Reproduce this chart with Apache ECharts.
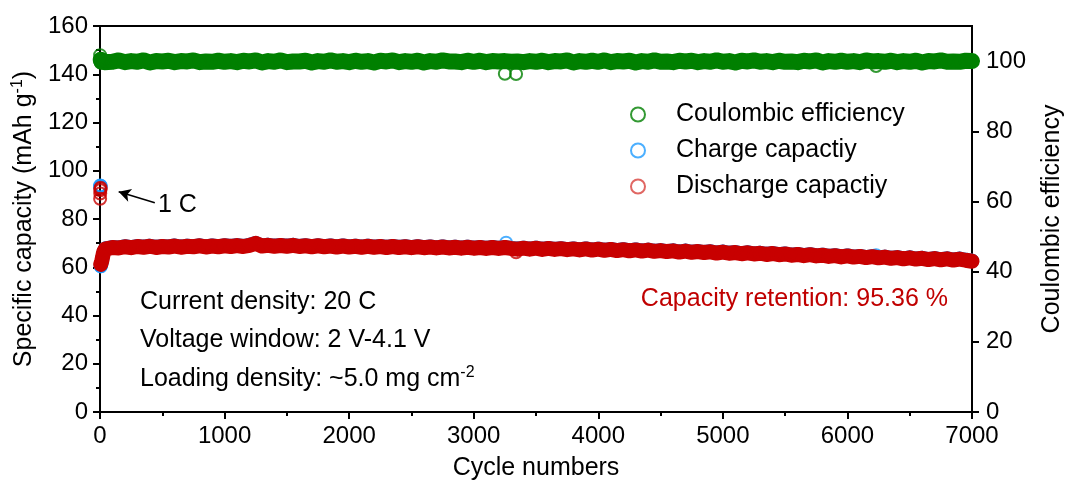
<!DOCTYPE html>
<html>
<head>
<meta charset="utf-8">
<title>Long cycling at 20 C</title>
<script src="https://cdn.jsdelivr.net/npm/echarts@6/dist/echarts.min.js"></script>
<style>
  html, body { margin: 0; padding: 0; background: #fff; }
  #chart { width: 1066px; height: 486px; }
</style>
</head>
<body>
<div id="chart"></div>
<script>
// ---- data -------------------------------------------------------------
// formation cycles at 1 C
const oneCCycles = [1, 2, 3, 4, 5];
const oneCCharge = [93.9, 93.2, 93.5, 93.6, 93.8];
const oneCDischarge = [88.4, 90.6, 91.9, 92.5, 93.0];
const oneCEfficiency = [101.7, 100.6, 100.0, 99.8, 99.6];

// first cycles at 20 C (capacity still rising)
const earlyCycles = [6, 10, 15, 20, 25, 30, 35, 42];
const earlyCharge = [60.4, 61.0, 62.5, 63.9, 65.2, 66.3, 67.1, 67.7];
const earlyDischarge = [61.2, 61.6, 62.8, 64.1, 65.3, 66.3, 67.0, 67.5];
const earlyEfficiency = [100.4, 100.1, 99.8, 100.1, 99.8, 100.0, 99.7, 100.1];

// long-term cycling at 20 C
const cycles = [
  50, 100, 150, 200, 250, 300, 350, 400, 450, 500, 550, 600, 650, 700, 750, 800, 850, 900, 950, 1000,
  1050, 1100, 1150, 1200, 1250, 1300, 1350, 1400, 1450, 1500, 1550, 1600, 1650, 1700, 1750, 1800, 1850, 1900, 1950, 2000,
  2050, 2100, 2150, 2200, 2250, 2300, 2350, 2400, 2450, 2500, 2550, 2600, 2650, 2700, 2750, 2800, 2850, 2900, 2950, 3000,
  3050, 3100, 3150, 3200, 3250, 3300, 3350, 3400, 3450, 3500, 3550, 3600, 3650, 3700, 3750, 3800, 3850, 3900, 3950, 4000,
  4050, 4100, 4150, 4200, 4250, 4300, 4350, 4400, 4450, 4500, 4550, 4600, 4650, 4700, 4750, 4800, 4850, 4900, 4950, 5000,
  5050, 5100, 5150, 5200, 5250, 5300, 5350, 5400, 5450, 5500, 5550, 5600, 5650, 5700, 5750, 5800, 5850, 5900, 5950, 6000,
  6050, 6100, 6150, 6200, 6250, 6300, 6350, 6400, 6450, 6500, 6550, 6600, 6650, 6700, 6750, 6800, 6850, 6900, 6950, 7000
];
const chargeCapacity = [
  68.0, 68.4, 68.2, 68.7, 68.3, 68.8, 68.5, 68.9, 68.4, 68.8, 68.6, 69.0, 68.5, 68.9, 68.7, 69.1, 68.6, 69.0, 68.7, 69.1,
  68.8, 69.2, 68.8, 69.3, 70.0, 69.0, 69.3, 68.9, 69.2, 68.9, 69.3, 68.8, 69.1, 68.7, 69.1, 68.7, 69.0, 68.6, 69.0, 68.6,
  68.9, 68.5, 68.9, 68.5, 68.8, 68.4, 68.8, 68.4, 68.7, 68.3, 68.7, 68.3, 68.6, 68.2, 68.6, 68.2, 68.5, 68.1, 68.5, 68.1,
  68.4, 68.0, 68.4, 68.0, 68.3, 68.0, 67.8, 68.1, 67.7, 68.1, 67.6, 68.0, 67.6, 67.9, 67.5, 67.8, 67.4, 67.8, 67.3, 67.7,
  67.2, 67.6, 67.1, 67.5, 67.0, 67.4, 66.9, 67.3, 66.8, 67.1, 66.7, 67.0, 66.5, 66.9, 66.4, 66.7, 66.3, 66.6, 66.1, 66.5,
  66.0, 66.3, 65.8, 66.2, 65.7, 66.0, 65.5, 65.9, 65.4, 65.7, 65.2, 65.5, 65.0, 65.4, 64.9, 65.2, 64.7, 65.0, 64.5, 64.9,
  64.4, 64.7, 64.2, 64.6, 64.1, 64.4, 63.9, 64.2, 63.7, 64.1, 63.6, 63.9, 63.4, 63.8, 63.3, 63.7, 63.2, 63.6, 63.1, 62.7
];
const dischargeCapacity = [
  67.8, 68.2, 68.0, 68.5, 68.1, 68.6, 68.3, 68.7, 68.2, 68.6, 68.4, 68.8, 68.3, 68.7, 68.5, 68.9, 68.4, 68.8, 68.5, 68.9,
  68.6, 69.0, 68.6, 69.1, 69.9, 68.8, 69.1, 68.7, 69.0, 68.7, 69.1, 68.6, 68.9, 68.5, 68.9, 68.5, 68.8, 68.4, 68.8, 68.4,
  68.7, 68.3, 68.7, 68.3, 68.6, 68.2, 68.6, 68.2, 68.5, 68.1, 68.5, 68.1, 68.4, 68.0, 68.4, 68.0, 68.3, 67.9, 68.3, 67.9,
  68.2, 67.8, 68.2, 67.8, 68.2, 67.8, 67.5, 67.9, 67.5, 67.9, 67.4, 67.8, 67.4, 67.7, 67.3, 67.6, 67.2, 67.6, 67.1, 67.5,
  67.0, 67.4, 66.9, 67.3, 66.8, 67.2, 66.7, 67.1, 66.6, 66.9, 66.5, 66.8, 66.3, 66.7, 66.2, 66.5, 66.1, 66.4, 65.9, 66.3,
  65.8, 66.1, 65.6, 66.0, 65.5, 65.8, 65.3, 65.7, 65.2, 65.5, 65.0, 65.3, 64.8, 65.2, 64.7, 65.0, 64.5, 64.8, 64.3, 64.7,
  64.2, 64.5, 64.0, 64.4, 63.9, 64.2, 63.7, 64.0, 63.5, 63.9, 63.4, 63.7, 63.2, 63.6, 63.1, 63.5, 63.0, 63.4, 62.9, 62.5
];
const coulombicEfficiency = [
  100.1, 99.8, 100.2, 99.7, 100.0, 99.8, 100.2, 99.6, 100.0, 99.9, 100.1, 99.7, 100.0, 99.9, 100.2, 99.7, 99.9, 99.8, 100.1, 99.8,
  100.0, 99.7, 100.1, 99.9, 100.2, 99.6, 100.0, 99.8, 100.2, 99.7, 99.9, 99.9, 100.1, 99.6, 100.0, 99.8, 100.2, 99.8, 100.0, 99.7,
  100.1, 99.8, 100.0, 99.6, 100.1, 99.9, 100.2, 99.7, 100.0, 99.8, 100.1, 99.6, 100.0, 99.8, 100.2, 99.9, 99.9, 99.7, 100.1, 99.8,
  100.1, 99.7, 100.0, 99.9, 100.0, 99.8, 99.9, 99.7, 100.0, 99.8, 100.1, 99.7, 100.0, 99.9, 100.2, 99.6, 100.0, 99.8, 100.1, 99.8,
  100.2, 99.7, 100.0, 99.9, 100.1, 99.6, 100.0, 99.8, 100.2, 99.8, 99.9, 99.7, 100.1, 99.9, 100.1, 99.7, 100.0, 99.8, 100.2, 99.8,
  100.0, 99.6, 100.1, 99.9, 100.2, 99.8, 100.0, 99.7, 100.1, 99.8, 99.9, 99.7, 100.1, 99.9, 100.2, 99.6, 100.0, 99.8, 100.1, 99.8,
  100.0, 99.7, 100.2, 99.9, 100.0, 99.8, 100.1, 99.7, 100.0, 99.8, 100.1, 99.6, 100.0, 99.9, 100.2, 99.8, 99.9, 99.8, 100.1, 100.0
];

// stray cycles lying off the main trend
const strayEfficiencyCycles = [3250, 3340, 6230];
const strayEfficiency = [96.4, 96.3, 98.6];
const strayChargeCycles = [3260, 6230];
const strayCharge = [70.2, 65.0];
const strayDischargeCycles = [3340];
const strayDischarge = [66.2];

// arrow pointing at the 1 C cycles: [cycle, capacity] tail and head
const arrowTail = [440, 86.7];
const arrowHead = [150, 91.3];

// ---- styling ----------------------------------------------------------
const FONT = 'Liberation Sans, Arial, Helvetica, sans-serif';
const GREEN = '#008000';
const BLUE = '#1E9BFF';
const RED = '#C80000';

function pairs(xs, ys) { return xs.map((x, i) => [x, ys[i]]); }

// continuous 20 C record (drawn as a dense band) and all recorded points
const cycles20C = earlyCycles.concat(cycles);
const efficiencyTrend = pairs(cycles20C, earlyEfficiency.concat(coulombicEfficiency));
const chargeTrend = pairs(cycles20C, earlyCharge.concat(chargeCapacity));
const dischargeTrend = pairs(cycles20C, earlyDischarge.concat(dischargeCapacity));

const efficiencyPoints = pairs(oneCCycles, oneCEfficiency).concat(efficiencyTrend, pairs(strayEfficiencyCycles, strayEfficiency));
const chargePoints = pairs(oneCCycles, oneCCharge).concat(chargeTrend, pairs(strayChargeCycles, strayCharge));
const dischargePoints = pairs(oneCCycles, oneCDischarge).concat(dischargeTrend, pairs(strayDischargeCycles, strayDischarge));

const markerStyle = c => ({ color: 'rgba(0,0,0,0)', borderColor: c, borderWidth: 2 });

const chart = echarts.init(document.getElementById('chart'), null, { renderer: 'canvas' });

const TICK_FONT = 24;
const axisCommon = {
  axisLine: { show: true, onZero: false, lineStyle: { color: '#000', width: 2 } },
  axisTick: { show: true, inside: false, length: 7, lineStyle: { color: '#000', width: 2 } },
  minorTick: { show: true, splitNumber: 2, length: 4, lineStyle: { color: '#000', width: 2 } },
  splitLine: { show: false },
  minorSplitLine: { show: false },
  axisLabel: { color: '#000', fontSize: TICK_FONT, fontFamily: FONT, margin: 12, formatter: v => String(v) },
  nameTextStyle: { color: '#000', fontSize: 25, fontFamily: FONT }
};

// each data set is drawn as a dense band with its open-circle markers on top;
// later sets sit above earlier ones (efficiency, then charge, then discharge)
function band(name, axis, color, width, data, z) {
  return {
    name: name, type: 'line', yAxisIndex: axis, data: data,
    showSymbol: false, symbol: 'none', silent: true, clip: true,
    lineStyle: { color: color, width: width, cap: 'round', join: 'round' },
    itemStyle: { color: color },
    z: z
  };
}
function points(name, axis, color, data, z) {
  return {
    name: name, type: 'scatter', yAxisIndex: axis, data: data,
    symbol: 'circle', symbolSize: 12,
    itemStyle: markerStyle(color),
    z: z
  };
}

const bigText = (text, color) => ({ text: text, fontSize: 25, fontFamily: FONT, fill: color || '#000', verticalAlign: 'middle' });

chart.setOption({
  animation: false,
  backgroundColor: '#fff',
  textStyle: { fontFamily: FONT },
  grid: {
    left: 100, right: 94, top: 26, bottom: 74,
    outerBoundsMode: 'none', containLabel: false,
    show: true, borderColor: '#000', borderWidth: 2, backgroundColor: 'transparent'
  },
  legend: {
    orient: 'vertical',
    left: 625, top: 97,
    itemWidth: 14, itemHeight: 14, itemGap: 11,
    icon: 'circle',
    textStyle: { color: '#000', fontSize: 25, fontFamily: FONT, padding: [0, 0, 0, 26] },
    data: [
      { name: 'Coulombic efficiency', itemStyle: markerStyle(GREEN) },
      { name: 'Charge capactiy', itemStyle: markerStyle(BLUE) },
      { name: 'Discharge capactiy', itemStyle: markerStyle('#D8413C') }
    ]
  },
  xAxis: Object.assign({}, axisCommon, {
    type: 'value', min: 0, max: 7000, interval: 1000,
    name: 'Cycle numbers', nameLocation: 'middle', nameGap: 44,
    axisLabel: Object.assign({}, axisCommon.axisLabel, { margin: 12 })
  }),
  yAxis: [
    Object.assign({}, axisCommon, {
      type: 'value', min: 0, max: 160, interval: 20, position: 'left',
      name: '{n|Specific capacity (mAh g}{s|-1}{n|)}',
      nameLocation: 'middle', nameRotate: 90, nameGap: 55,
      nameTextStyle: {
        color: '#000', fontFamily: FONT,
        rich: {
          n: { fontSize: 25, fontFamily: FONT, color: '#000', lineHeight: 30 },
          s: { fontSize: 16, fontFamily: FONT, color: '#000', verticalAlign: 'top', lineHeight: 30, padding: [0, 0, 10, 0] }
        }
      }
    }),
    Object.assign({}, axisCommon, {
      type: 'value', min: 0, max: 110, interval: 20, position: 'right',
      minorTick: { show: false },
      axisTick: Object.assign({}, axisCommon.axisTick, { customValues: [0, 20, 40, 60, 80, 100] }),
      axisLabel: Object.assign({}, axisCommon.axisLabel, { margin: 14, customValues: [0, 20, 40, 60, 80, 100] }),
      name: 'Coulombic efficiency',
      nameLocation: 'middle', nameRotate: 90, nameGap: 68
    })
  ],
  series: [
    band('efficiency band', 1, GREEN, 16, efficiencyTrend, 2),
    points('Coulombic efficiency', 1, GREEN, efficiencyPoints, 3),
    band('charge band', 0, BLUE, 14, chargeTrend, 4),
    points('Charge capactiy', 0, BLUE, chargePoints, 5),
    band('discharge band', 0, RED, 15, dischargeTrend, 6),
    Object.assign(points('Discharge capactiy', 0, RED, dischargePoints, 7), {
      markLine: {
        silent: true,
        symbol: ['none', 'arrow'], symbolSize: [10, 12],
        lineStyle: { color: '#000', width: 1.5, type: 'solid' },
        label: { show: false },
        data: [[{ coord: arrowTail }, { coord: arrowHead }]]
      }
    })
  ],
  graphic: [
    { type: 'text', x: 158, y: 205, style: bigText('1 C') },
    { type: 'text', x: 140, y: 302, style: bigText('Current density: 20 C') },
    { type: 'text', x: 140, y: 340, style: bigText('Voltage window: 2 V-4.1 V') },
    {
      type: 'text', x: 140, y: 377,
      style: {
        text: '{n|Loading density: ~5.0 mg cm}{s|-2}',
        verticalAlign: 'middle',
        rich: {
          n: { fontSize: 25, fontFamily: FONT, fill: '#000', lineHeight: 30, verticalAlign: 'bottom' },
          s: { fontSize: 16, fontFamily: FONT, fill: '#000', lineHeight: 30, verticalAlign: 'bottom', padding: [0, 0, 11, 0] }
        }
      }
    },
    { type: 'text', x: 948, y: 299, style: Object.assign(bigText('Capacity retention: 95.36 %', '#C00000'), { align: 'right' }) }
  ]
});
</script>
</body>
</html>
